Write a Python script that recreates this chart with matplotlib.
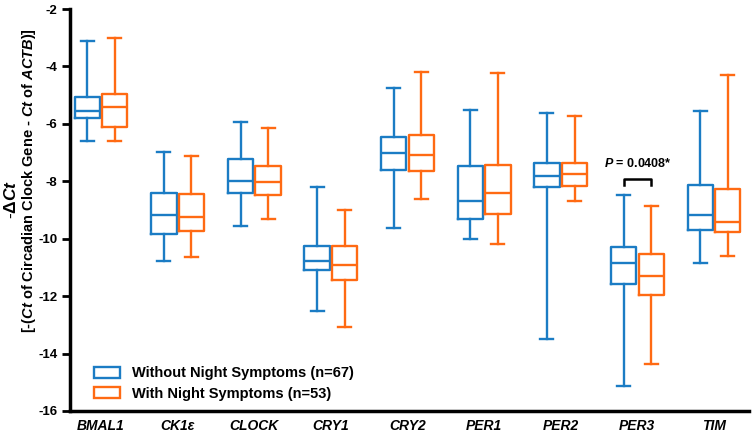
import matplotlib
matplotlib.use('Agg')
import matplotlib.pyplot as plt
import numpy as np

# gene names on the x axis
genes = ['BMAL1', 'CK1ε', 'CLOCK', 'CRY1', 'CRY2', 'PER1', 'PER2', 'PER3', 'TIM']

# box stats: min, q1, median, q3, max
wo_min = [-6.60, -10.77, -9.55, -12.51, -9.64, -10.02, -13.49, -15.14, -10.86]
wo_q1 = [-5.80, -9.84, -8.40, -11.09, -7.59, -9.33, -8.21, -11.58, -9.68]
wo_med = [-5.55, -9.18, -7.99, -10.77, -7.03, -8.67, -7.81, -10.84, -9.18]
wo_q3 = [-5.05, -8.42, -7.23, -10.26, -6.45, -7.46, -7.36, -10.28, -8.13]
wo_max = [-3.10, -6.99, -5.95, -8.21, -4.74, -5.52, -5.61, -8.48, -5.54]

w_min = [-6.61, -10.65, -9.32, -13.09, -8.61, -10.18, -8.69, -14.36, -10.61]
w_q1 = [-6.10, -9.74, -8.46, -11.44, -7.64, -9.13, -8.16, -11.97, -9.77]
w_med = [-5.40, -9.26, -8.02, -10.90, -7.09, -8.40, -7.75, -11.30, -9.41]
w_q3 = [-4.97, -8.45, -7.46, -10.26, -6.37, -7.44, -7.37, -10.54, -8.26]
w_max = [-3.00, -7.12, -6.16, -9.00, -4.18, -4.24, -5.72, -8.86, -4.30]

blue = '#1b7cc4'
orange = '#ff6a13'

plt.rcParams['font.family'] = ['Liberation Sans', 'DejaVu Sans']
plt.rcParams['mathtext.fontset'] = 'custom'
plt.rcParams['mathtext.rm'] = 'Liberation Sans:bold'
plt.rcParams['mathtext.it'] = 'Liberation Sans:italic:bold'
plt.rcParams['mathtext.bf'] = 'Liberation Sans:bold'


def make_stats(mn, q1, med, q3, mx):
    return [{'whislo': a, 'q1': b, 'med': c, 'q3': d, 'whishi': e, 'fliers': []}
            for a, b, c, d, e in zip(mn, q1, med, q3, mx)]


fig = plt.figure(figsize=(7.53, 4.33), dpi=100)
ax = fig.add_axes([0.093, 0.051, 0.902, 0.928])

x = np.arange(len(genes))
off = 0.18
lw = 1.7
for stats, pos, col in [(make_stats(wo_min, wo_q1, wo_med, wo_q3, wo_max), x - off, blue),
                        (make_stats(w_min, w_q1, w_med, w_q3, w_max), x + off, orange)]:
    ax.bxp(stats, positions=pos, widths=0.33, showfliers=False, capwidths=0.17,
           boxprops=dict(color=col, linewidth=lw),
           medianprops=dict(color=col, linewidth=lw),
           whiskerprops=dict(color=col, linewidth=lw),
           capprops=dict(color=col, linewidth=lw),
           manage_ticks=False)

ax.set_xlim(-0.405, 8.46)
ax.set_ylim(-16, -2)
ax.set_yticks(np.arange(-16, -1, 2))
ax.set_yticklabels([str(v) for v in range(-16, -1, 2)], fontsize=9.5, fontweight='bold')
ax.set_xticks(x)
ax.set_xticklabels(genes, fontsize=10, fontweight='bold', style='italic')
ax.tick_params(axis='x', length=0, pad=6)
ax.tick_params(axis='y', length=6, width=2, pad=3)
for s in ['top', 'right']:
    ax.spines[s].set_visible(False)
for s in ['left', 'bottom']:
    ax.spines[s].set_linewidth(2.5)

# significance bracket over PER3
ax.plot([7 - off, 7 - off, 7 + off, 7 + off], [-8.13, -7.92, -7.92, -8.13], color='black', lw=1.8)
ax.text(7, -7.6, r'$\mathit{P}$ = 0.0408*', ha='center', va='bottom', fontsize=9, fontweight='bold')

# y label in two lines
fig.text(0.014, 0.54, r'-$\Delta\mathit{Ct}$', rotation=90, ha='center', va='center', fontsize=12.5)
fig.text(0.039, 0.583, r'[-($\mathit{Ct}$ of Circadian Clock Gene - $\mathit{Ct}$ of $\mathit{ACTB}$)]',
         rotation=90, ha='center', va='center', fontsize=10.5, fontweight='bold')

# legend
h1 = plt.Rectangle((0, 0), 1, 1, facecolor='white', edgecolor=blue, linewidth=lw)
h2 = plt.Rectangle((0, 0), 1, 1, facecolor='white', edgecolor=orange, linewidth=lw)
ax.legend([h1, h2], ['Without Night Symptoms (n=67)', 'With Night Symptoms (n=53)'],
          loc='lower left', bbox_to_anchor=(0.024, 0.007), frameon=False, borderpad=0,
          prop={'weight': 'bold', 'size': 10.5}, handlelength=1.8, handleheight=0.8,
          handletextpad=0.85, labelspacing=0.45)

fig.savefig('out.png', dpi=100)
